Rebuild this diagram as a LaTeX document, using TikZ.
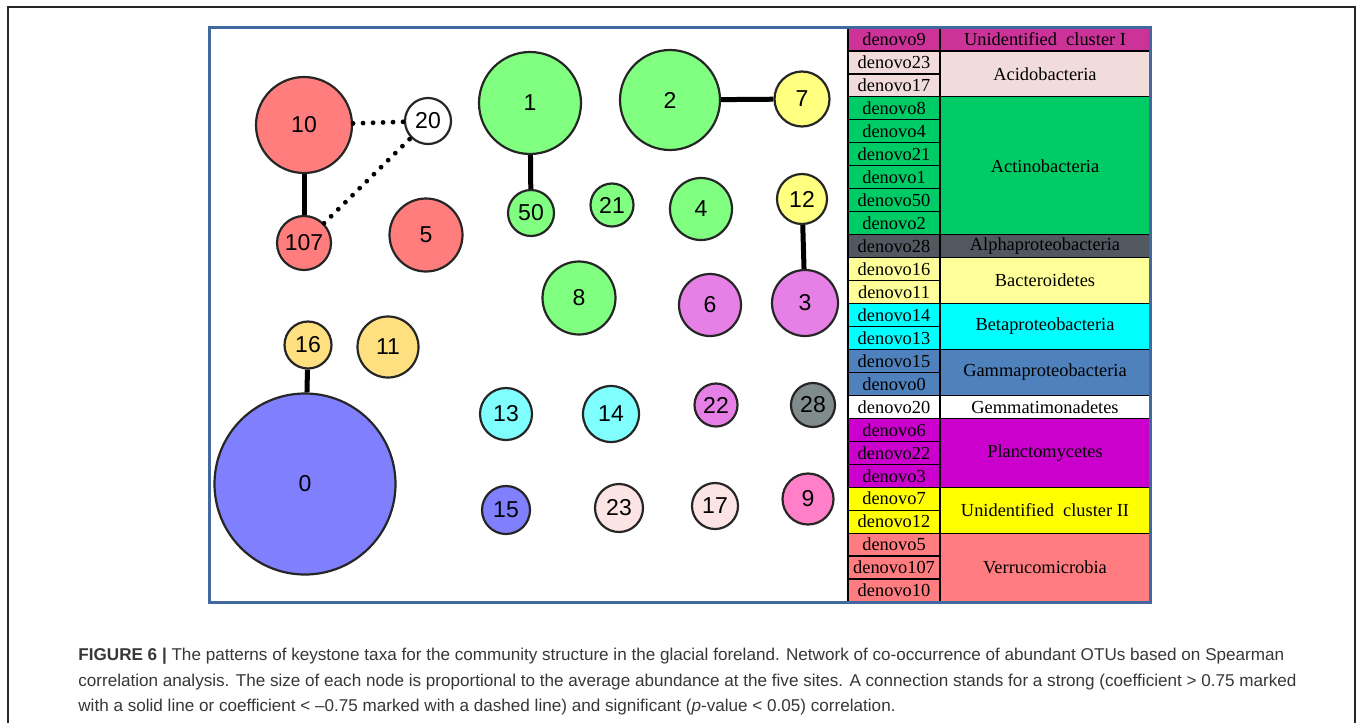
\documentclass[tikz,border=0pt]{standalone}
\usepackage{fontspec}
\newfontfamily\capfam{Liberation Sans}
\newfontfamily\tabfam{Liberation Serif}
\newcommand\tabfont{\tabfam\fontsize{9.2}{10}\selectfont}
\newcommand\nodefont{\capfam\fontsize{11.5}{12}\selectfont}
\newcommand\captionfont{\capfam\fontsize{8.55}{10}\selectfont}
\definecolor{nred}{RGB}{255,125,125}
\definecolor{ngreen}{RGB}{128,255,128}
\definecolor{nyellow}{RGB}{255,255,128}
\definecolor{ngold}{RGB}{255,224,128}
\definecolor{npurple}{RGB}{230,128,230}
\definecolor{ncyan}{RGB}{128,255,255}
\definecolor{ngray}{RGB}{128,140,140}
\definecolor{nblue}{RGB}{128,128,255}
\definecolor{npale}{RGB}{252,228,228}
\definecolor{npink}{RGB}{255,128,200}
\definecolor{cI}{RGB}{204,51,153}
\definecolor{acido}{RGB}{242,220,219}
\definecolor{actino}{RGB}{0,204,102}
\definecolor{alpha}{RGB}{82,88,96}
\definecolor{bact}{RGB}{255,255,153}
\definecolor{beta}{RGB}{0,255,255}
\definecolor{gamma}{RGB}{79,129,189}
\definecolor{plancto}{RGB}{204,0,204}
\definecolor{cII}{RGB}{255,255,0}
\definecolor{verru}{RGB}{255,124,128}
\definecolor{frameblue}{RGB}{65,105,160}
\definecolor{captext}{RGB}{55,55,55}
\begin{document}
\begin{tikzpicture}[x=0.5pt,y=-0.5pt,
  nd/.style={circle, draw=black!85, line width=1.1pt, inner sep=0pt, font=\nodefont},
  posedge/.style={line width=2.5pt, black},
  negedge/.style={line width=2.4pt, black, line cap=round, dash pattern=on 0pt off 5pt},
  lc/.style={draw=black, line width=0.6pt, minimum width=46pt, minimum height=11.48pt, inner sep=0pt, font=\tabfont},
  gc/.style={draw=black, line width=0.6pt, minimum width=105pt, inner sep=0pt, font=\tabfont},
  capline/.style={anchor=base west, inner sep=0pt, font=\captionfont, text=captext}]
\useasboundingbox (0,0) rectangle (1358,723);
\fill[white] (0,0) rectangle (1358,723);
\draw[line width=1pt, black!85] (8,723) -- (8,7) -- (1355,7) -- (1355,723);

% table
\foreach \i/\n/\c in {0/denovo9/cI,1/denovo23/acido,2/denovo17/acido,3/denovo8/actino,4/denovo4/actino,5/denovo21/actino,6/denovo1/actino,7/denovo50/actino,8/denovo2/actino,9/denovo28/alpha,10/denovo16/bact,11/denovo11/bact,12/denovo14/beta,13/denovo13/beta,14/denovo15/gamma,15/denovo0/gamma,16/denovo20/white,17/denovo6/plancto,18/denovo22/plancto,19/denovo3/plancto,20/denovo7/cII,21/denovo12/cII,22/denovo5/verru,23/denovo107/verru,24/denovo10/verru}
  \node[lc, fill=\c] (t\n) at (894, {28+22.96*(\i+0.5)}) {\n};
\foreach \s/\k/\c/\t/\id in {0/1/cI/{Unidentified\ \ cluster I}/ucI,1/2/acido/Acidobacteria/aci,3/6/actino/Actinobacteria/act,9/1/alpha/Alphaproteobacteria/alp,10/2/bact/Bacteroidetes/bac,12/2/beta/Betaproteobacteria/bet,14/2/gamma/Gammaproteobacteria/gam,16/1/white/Gemmatimonadetes/gem,17/3/plancto/Planctomycetes/pla,20/2/cII/{Unidentified\ \ cluster II}/ucII,22/3/verru/Verrucomicrobia/ver}
  \node[gc, fill=\c, minimum height={\k*11.48pt}] (g\id) at (1045, {28+22.96*(\s+\k/2)}) {\t};

\draw[frameblue, line width=1.5pt] (209,27) rectangle (1150,602);

% nodes
\node[nd, fill=nred, minimum size=48pt] (n10) at (304,125) {10};
\node[nd, fill=white, minimum size=23pt] (n20) at (428,121) {20};
\node[nd, fill=nred, minimum size=27pt] (n107) at (304,243) {107};
\node[nd, fill=nred, minimum size=36.5pt] (n5) at (426,235) {5};
\node[nd, fill=ngreen, minimum size=51pt] (n1) at (530,103) {1};
\node[nd, fill=ngreen, minimum size=50pt] (n2) at (670,100) {2};
\node[nd, fill=nyellow, minimum size=27.5pt] (n7) at (802,99) {7};
\node[nd, fill=ngreen, minimum size=23pt] (n50) at (531,213) {50};
\node[nd, fill=ngreen, minimum size=21.5pt] (n21) at (612,205) {21};
\node[nd, fill=ngreen, minimum size=31pt] (n4) at (701,209) {4};
\node[nd, fill=nyellow, minimum size=25pt] (n12) at (802,199) {12};
\node[nd, fill=ngreen, minimum size=36.5pt] (n8) at (579,298) {8};
\node[nd, fill=npurple, minimum size=31pt] (n6) at (710,305) {6};
\node[nd, fill=npurple, minimum size=33pt] (n3) at (805,303) {3};
\node[nd, fill=ngold, minimum size=23.5pt] (n16) at (308,345) {16};
\node[nd, fill=ngold, minimum size=30.5pt] (n11) at (388,347) {11};
\node[nd, fill=nblue, minimum size=90.5pt] (n0) at (305,484) {0};
\node[nd, fill=ncyan, minimum size=26pt] (n13) at (506,414) {13};
\node[nd, fill=ncyan, minimum size=28pt] (n14) at (611,414) {14};
\node[nd, fill=npurple, minimum size=21.5pt] (n22) at (716,405) {22};
\node[nd, fill=ngray, minimum size=22pt] (n28) at (813,405) {28};
\node[nd, fill=nblue, minimum size=24pt] (n15) at (506,510) {15};
\node[nd, fill=npale, minimum size=24pt] (n23) at (619,508) {23};
\node[nd, fill=npale, minimum size=23pt] (n17) at (715,506) {17};
\node[nd, fill=npink, minimum size=25.5pt] (n9) at (808,499) {9};

% connectors
\draw[posedge] (n10) -- (n107);
\draw[posedge] (n1) -- (n50);
\draw[posedge] (n2) -- (n7);
\draw[posedge] (n12) -- (n3);
\draw[posedge] (n16) -- (n0);
\draw[negedge] (n10) -- (n20);
\draw[negedge] (n107) -- (n20);

% caption
\node[capline] (cap1) at (78,660) {\textbf{FIGURE 6 |} The patterns of keystone taxa for the community structure in the glacial foreland. Network of co-occurrence of abundant OTUs based on Spearman};
\node[capline] (cap2) at (78,686) {correlation analysis. The size of each node is proportional to the average abundance at the five sites. A connection stands for a strong (coefficient > 0.75 marked};
\node[capline] (cap3) at (78,711) {with a solid line or coefficient < –0.75 marked with a dashed line) and significant (\textit{p}-value < 0.05) correlation.};
\end{tikzpicture}
\end{document}
